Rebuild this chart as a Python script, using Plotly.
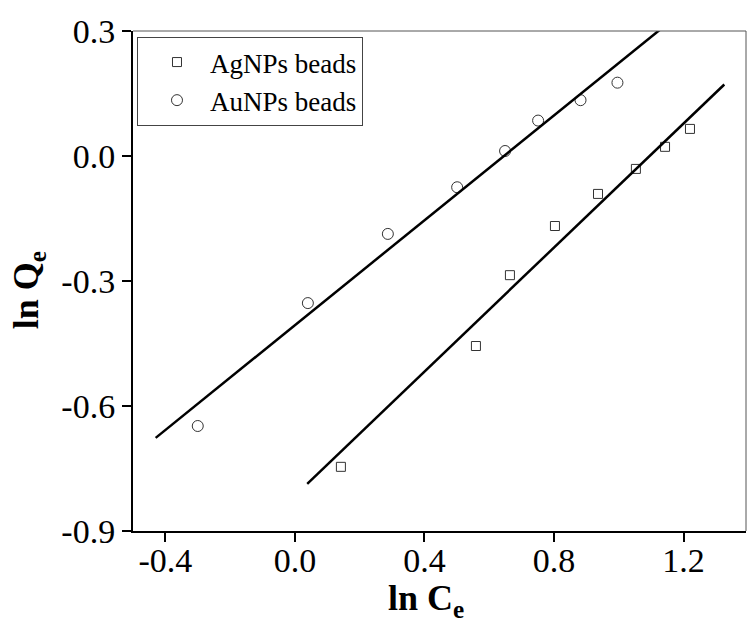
import plotly.graph_objects as go

# Data
ag_x = [0.142, 0.559, 0.664, 0.803, 0.936, 1.053, 1.143, 1.220]
ag_y = [-0.746, -0.456, -0.286, -0.168, -0.091, -0.031, 0.022, 0.065]
au_x = [-0.300, 0.040, 0.287, 0.501, 0.649, 0.751, 0.882, 0.996]
au_y = [-0.648, -0.353, -0.187, -0.075, 0.012, 0.085, 0.134, 0.176]

# Linear fits (slope, intercept) and their x extents
ag_fit = [0.744, -0.815]
ag_fit_x = [0.038, 1.326]
au_fit = [0.629, -0.406]
au_fit_x = [-0.43, 1.20]

x_ticks = [-0.4, 0.0, 0.4, 0.8, 1.2]
x_ticklabels = ["-0.4", "0.0", "0.4", "0.8", "1.2"]
y_ticks = [-0.9, -0.6, -0.3, 0.0, 0.3]
y_ticklabels = ["-0.9", "-0.6", "-0.3", "0.0", "0.3"]

FONT = "Liberation Serif, Times New Roman, serif"

fig = go.Figure()
fig.add_trace(go.Scatter(
    x=ag_x, y=ag_y, mode="markers", name="AgNPs beads",
    marker=dict(symbol="square-open", size=9, color="#333333", line=dict(width=1)),
))
fig.add_trace(go.Scatter(
    x=au_x, y=au_y, mode="markers", name="AuNPs beads",
    marker=dict(symbol="circle-open", size=11, color="#333333", line=dict(width=1)),
))
fig.add_trace(go.Scatter(
    x=ag_fit_x, y=[ag_fit[0] * v + ag_fit[1] for v in ag_fit_x],
    mode="lines", line=dict(color="black", width=2.5), showlegend=False,
))
fig.add_trace(go.Scatter(
    x=au_fit_x, y=[au_fit[0] * v + au_fit[1] for v in au_fit_x],
    mode="lines", line=dict(color="black", width=2.5), showlegend=False,
))

fig.update_layout(
    width=751, height=634,
    margin=dict(l=133, r=5, t=31, b=103),
    paper_bgcolor="white", plot_bgcolor="white",
    font=dict(family=FONT, color="black"),
    showlegend=True,
    legend=dict(
        x=0.0065, y=0.988, xanchor="left", yanchor="top",
        bgcolor="white", bordercolor="#444444", borderwidth=1,
        font=dict(family=FONT, size=27, color="black"),
        itemwidth=56, indentation=6,
    ),
    xaxis=dict(
        range=[-0.5, 1.393], tickvals=x_ticks, ticktext=x_ticklabels,
        showgrid=False, zeroline=False, showline=True, linecolor="black", linewidth=2,
        ticks="outside", ticklen=9, tickwidth=1.5, tickcolor="black",
        ticklabelstandoff=-11,
        tickfont=dict(family=FONT, size=34, color="black"),
    ),
    yaxis=dict(
        range=[-0.9, 0.3], tickvals=y_ticks, ticktext=y_ticklabels,
        showgrid=False, zeroline=False, showline=True, linecolor="black", linewidth=2,
        ticks="outside", ticklen=9, tickwidth=1.5, tickcolor="black",
        tickfont=dict(family=FONT, size=34, color="black"),
    ),
    shapes=[
        dict(type="line", xref="paper", yref="paper", x0=0, x1=1, y0=1, y1=1,
             line=dict(color="#555555", width=1)),
        dict(type="line", xref="paper", yref="paper", x0=1, x1=1, y0=0, y1=1,
             line=dict(color="#555555", width=1)),
    ],
    annotations=[
        dict(text="<b>ln C<sub>e</sub></b>", xref="paper", yref="paper",
             x=0.478, y=-0.138, xanchor="center", yanchor="middle", showarrow=False,
             font=dict(family=FONT, size=36, color="black")),
        dict(text="<b>ln Q<sub>e</sub></b>", xref="paper", yref="paper",
             x=-0.171, y=0.482, xanchor="center", yanchor="middle", showarrow=False,
             textangle=-90, font=dict(family=FONT, size=36, color="black")),
    ],
)

# Remove the page's default body margin so the figure sits at the window's corner
fig.write_html("out.html", config={"displayModeBar": False},
               post_script="document.body.style.margin='0';")
